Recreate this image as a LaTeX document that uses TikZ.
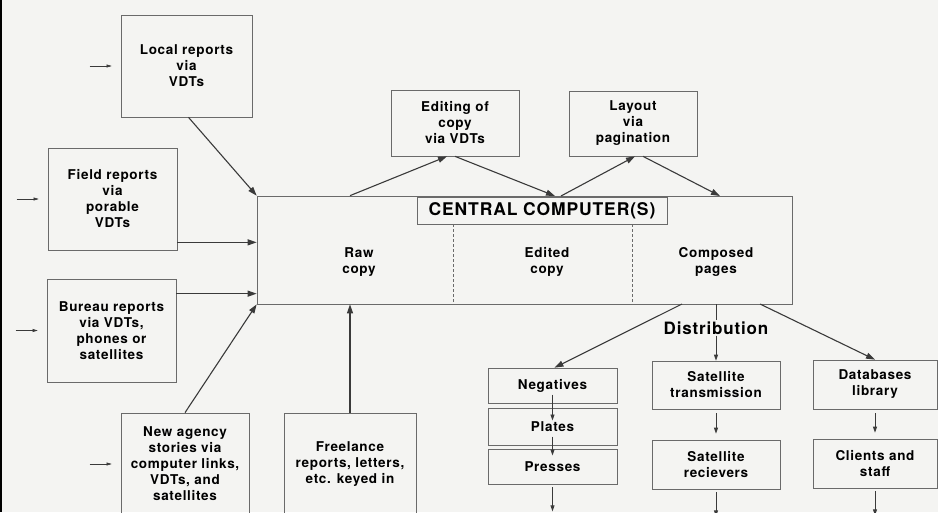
\documentclass[tikz,border=0pt]{standalone}
\usepackage{fontspec}
\setmainfont{TeX Gyre Heros}
\newfontfamily\boxfam[LetterSpace=5]{TeX Gyre Heros}
\usetikzlibrary{arrows.meta}
\definecolor{paper}{HTML}{F4F4F2}
\definecolor{ink}{HTML}{3A3A3A}
\definecolor{frame}{HTML}{6A6A6A}
\newcommand{\boxfont}{\fontsize{13.5}{16}\boxfam\bfseries}
\tikzset{
  box/.style={draw=frame, line width=0.7pt, align=center, inner sep=0pt, font=\boxfont},
  lbl/.style={align=center, inner sep=1pt, font=\boxfont},
  arr/.style={draw=ink, line width=1.1pt, -{Triangle[length=9pt,width=6pt]}},
  small/.style={draw=ink, line width=0.8pt, -{Triangle[length=6pt,width=4pt]}},
  feed/.style={draw=ink, line width=0.6pt, -{Triangle[length=5pt,width=3pt]}},
  divider/.style={draw=frame, line width=0.7pt, densely dashed},
}
\begin{document}
\begin{tikzpicture}[x=1pt,y=-1pt]
\fill[paper] (0,0) rectangle (938,512);
\clip (0,0) rectangle (938,512);
\draw[black, line width=2pt] (1,0) -- (1,512);

% sources
\node[box, minimum width=131pt, minimum height=102pt] (local) at (186.5,66) {Local reports\\via\\VDTs};
\node[box, minimum width=129pt, minimum height=102pt] (field) at (112.5,199) {Field reports\\via\\porable\\VDTs};
\node[box, minimum width=129pt, minimum height=103pt] (bureau) at (111.5,330.5) {Bureau reports\\via VDTs,\\phones or\\satellites};
\node[box, minimum width=128pt, minimum height=102pt] (agency) at (185,464) {New agency\\stories via\\computer links,\\VDTs, and\\satellites};
\node[box, minimum width=132pt, minimum height=102pt] (freelance) at (350,464) {Freelance\\reports, letters,\\etc. keyed in};

% central computer
\node[box, minimum width=535pt, minimum height=108pt] (central) at (524.5,250) {};
\node[box, minimum width=250pt, minimum height=27pt, font={\fontsize{17.5}{20}\boxfam\bfseries}] (cc) at (542,210.5) {CENTRAL COMPUTER(S)};
\draw[divider] (cc.south -| 453,0) -- (central.south -| 453,0);
\draw[divider] (cc.south -| 632,0) -- (central.south -| 632,0);
\node[lbl] (raw) at (359,262) {Raw\\copy};
\node[lbl] (edited) at (547,262) {Edited\\copy};
\node[lbl] (composed) at (716,262) {Composed\\pages};

\node[box, minimum width=128pt, minimum height=66pt] (edit) at (455,123) {Editing of\\copy\\via VDTs};
\node[box, minimum width=128pt, minimum height=65pt] (layout) at (633,123.5) {Layout\\via\\pagination};

% distribution
\node[lbl, font={\fontsize{17}{20}\boxfam\bfseries}] (dist) at (716,328) {Distribution};
\node[box, minimum width=129pt, minimum height=35pt] (neg) at (552.5,385.5) {Negatives};
\node[box, minimum width=129pt, minimum height=37pt] (plates) at (552.5,426.5) {Plates};
\node[box, minimum width=129pt, minimum height=35pt] (presses) at (552.5,466.5) {Presses};
\node[box, minimum width=128pt, minimum height=48pt] (sattx) at (716,385) {Satellite\\transmission};
\node[box, minimum width=128pt, minimum height=49pt] (satrx) at (716,464.5) {Satellite\\recievers};
\node[box, minimum width=124pt, minimum height=49pt] (db) at (875,384.5) {Databases\\library};
\node[box, minimum width=124pt, minimum height=49pt] (clients) at (875,463.5) {Clients and\\staff};

\coordinate (editin) at (555,196);
\coordinate (editout) at (561,196);
\coordinate (layin) at (720,196);
\coordinate (negout) at (682,304);
\coordinate (dbout) at (760,304);
\path ([yshift=8pt]field.south east) coordinate (f1);
\path ([yshift=-15pt]bureau.north east) coordinate (b1);

% incoming feeds
\draw[feed] ([xshift=-31pt]local.west) -- ([xshift=-9pt]local.west);
\draw[feed] ([xshift=-31pt]field.west) -- ([xshift=-9pt]field.west);
\draw[feed] ([xshift=-31pt]bureau.west) -- ([xshift=-9pt]bureau.west);
\draw[feed] ([xshift=-31pt]agency.west) -- ([xshift=-9pt]agency.west);

\draw[arr] ([xshift=2pt]local.south) -- (central.north west);
\draw[arr] (f1) -- (f1 -| central.west);
\draw[arr] (b1) -- (b1 -| central.west);
\draw[arr] (agency.north) -- (central.south west);
\draw[arr] (freelance.north) -- (freelance.north |- central.south);

\draw[arr] (freelance.north |- central.north) -- ([xshift=-8pt]edit.south);
\draw[arr] (edit.south) -- (editin);
\draw[arr] (editout) -- ([xshift=2pt]layout.south);
\draw[arr] ([xshift=10pt]layout.south) -- (layin);

\draw[ink, line width=1pt] (dist.north |- central.south) -- (dist.north);
\draw[small] (dist.south) -- (sattx.north);
\draw[arr] (negout) -- ([xshift=2pt]neg.north);
\draw[arr] (dbout) -- (db.north);

\draw[small] ([yshift=-9pt]neg.center) -- ([yshift=6pt]plates.center);
\draw[small] ([yshift=-10pt]plates.center) -- ([yshift=11pt]presses.center);
\draw[small] ([yshift=-3pt]presses.south) -- ++(0,24);
\draw[small] ([yshift=-4pt]sattx.south) -- ([yshift=6pt]satrx.north);
\draw[small] ([yshift=-3pt]satrx.south) -- ++(0,24);
\draw[small] ([yshift=-4pt]db.south) -- ([yshift=6pt]clients.north);
\draw[small] ([yshift=-3pt]clients.south) -- ++(0,24);
\end{tikzpicture}
\end{document}
